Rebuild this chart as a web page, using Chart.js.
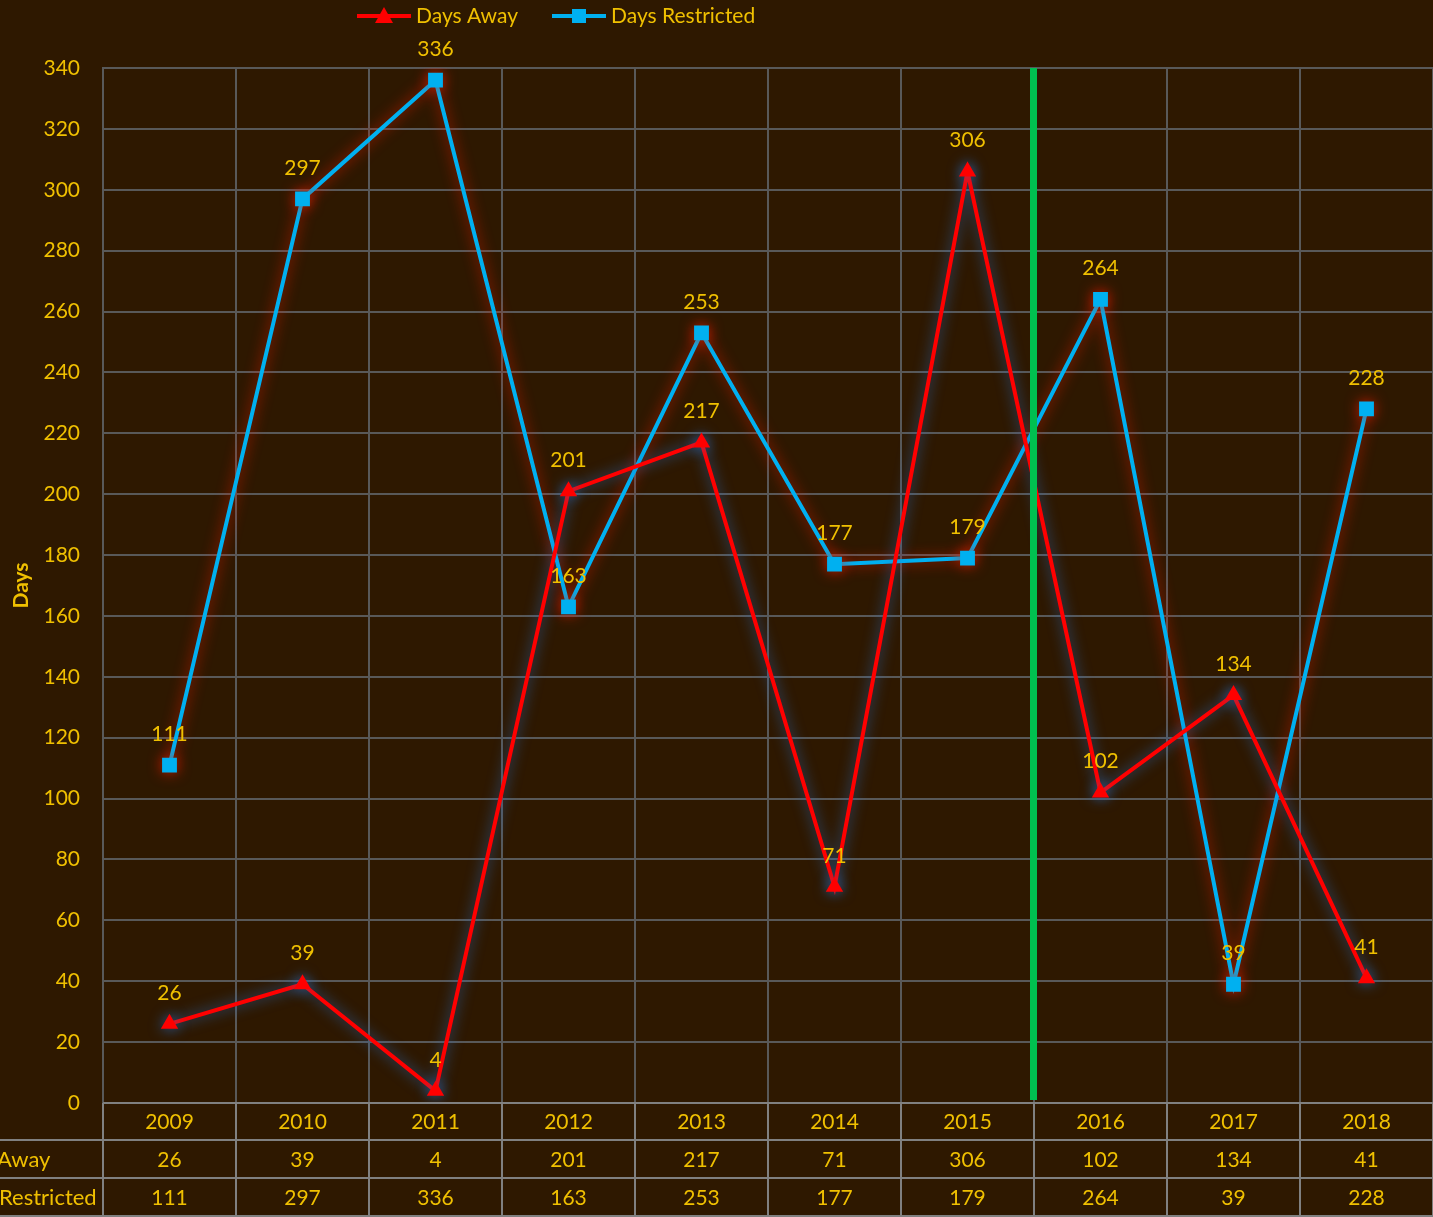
<!DOCTYPE html>
<html lang="en">
<head>
<meta charset="utf-8" />
<title>Days Away / Days Restricted</title>
<script src="https://cdn.jsdelivr.net/npm/chart.js@4.4.1/dist/chart.umd.min.js"></script>
<style>
  html, body { margin: 0; padding: 0; background: #2e1800; overflow: hidden; }
  canvas { display: block; }
</style>
</head>
<body>
<canvas id="days" width="1433" height="1217"></canvas>
<script>
// chart data
var years = ['2009', '2010', '2011', '2012', '2013', '2014', '2015', '2016', '2017', '2018'];
var daysAway = [26, 39, 4, 201, 217, 71, 306, 102, 134, 41];
var daysRestricted = [111, 297, 336, 163, 253, 177, 179, 264, 39, 228];
var tableRows = ['Away', 'Restricted'];

var gold = '#f0c000';
var red = '#ff0000';
var blue = '#00b0f0';
var FONT = 'Lato, "Open Sans", sans-serif';

// glow behind each series
var glowPlugin = {
  id: 'glow',
  beforeDatasetDraw: function (chart, args) {
    var ctx = chart.ctx;
    ctx.save();
    ctx.shadowColor = args.index === 0 ? 'rgba(40,110,200,0.85)' : 'rgba(230,30,0,0.85)';
    ctx.shadowBlur = 14;
  },
  afterDatasetDraw: function (chart) {
    chart.ctx.restore();
  }
};

// value labels, green marker line, legend and data table
var extrasPlugin = {
  id: 'extras',
  afterDatasetsDraw: function (chart) {
    var ctx = chart.ctx;
    var x = chart.scales.x;
    ctx.save();
    ctx.font = '21px ' + FONT;
    ctx.fillStyle = gold;
    ctx.textAlign = 'center';
    ctx.textBaseline = 'middle';
    chart.data.datasets.forEach(function (ds, di) {
      var meta = chart.getDatasetMeta(di);
      meta.data.forEach(function (pt, i) {
        ctx.fillText(String(ds.data[i]), pt.x, pt.y - 31);
      });
    });
    // green divider between 2015 and 2016
    var gx = (x.getPixelForValue(6) + x.getPixelForValue(7)) / 2;
    ctx.fillStyle = '#00c050';
    ctx.fillRect(gx - 4, chart.chartArea.top, 7, chart.chartArea.bottom - chart.chartArea.top - 3);
    ctx.restore();
  },
  afterDraw: function (chart) {
    var ctx = chart.ctx;
    var x = chart.scales.x;
    var area = chart.chartArea;
    ctx.save();

    // legend
    ctx.font = '21px ' + FONT;
    ctx.textBaseline = 'middle';
    ctx.textAlign = 'left';
    var ly = 16;
    ctx.lineWidth = 4;
    ctx.strokeStyle = red;
    ctx.beginPath(); ctx.moveTo(357, ly); ctx.lineTo(411, ly); ctx.stroke();
    ctx.fillStyle = red;
    ctx.beginPath(); ctx.moveTo(384, ly - 9); ctx.lineTo(393, ly + 7); ctx.lineTo(375, ly + 7); ctx.closePath(); ctx.fill();
    ctx.fillStyle = gold;
    ctx.fillText('Days Away', 416, ly);
    ctx.strokeStyle = blue;
    ctx.beginPath(); ctx.moveTo(552, ly); ctx.lineTo(606, ly); ctx.stroke();
    ctx.fillStyle = blue;
    ctx.fillRect(572, ly - 7, 14, 14);
    ctx.fillStyle = gold;
    ctx.fillText('Days Restricted', 611, ly);

    // data table
    var top = area.bottom;
    var rowH = 38;
    var step = x.getPixelForValue(1) - x.getPixelForValue(0);
    ctx.strokeStyle = '#808080';
    ctx.lineWidth = 2;
    ctx.beginPath();
    ctx.moveTo(area.left, top); ctx.lineTo(area.right, top);
    for (var r = 1; r <= 3; r++) {
      ctx.moveTo(0, top + r * rowH - 1); ctx.lineTo(area.right, top + r * rowH - 1);
    }
    for (var c = 0; c <= years.length; c++) {
      var vx = x.getPixelForValue(0) - step / 2 + c * step;
      ctx.moveTo(vx, top); ctx.lineTo(vx, top + 3 * rowH);
    }
    ctx.stroke();

    ctx.font = '21px ' + FONT;
    ctx.fillStyle = gold;
    ctx.textAlign = 'center';
    var rows = [years, daysAway, daysRestricted];
    rows.forEach(function (vals, ri) {
      var cy = top + ri * rowH + rowH / 2;
      vals.forEach(function (v, i) {
        ctx.fillText(String(v), x.getPixelForValue(i), cy);
      });
    });
    ctx.textAlign = 'left';
    ctx.font = '22px ' + FONT;
    ctx.fillText(tableRows[0], -3, top + rowH * 1.5);
    ctx.fillText(tableRows[1], -1, top + rowH * 2.5);
    ctx.restore();
  }
};

new Chart(document.getElementById('days'), {
  type: 'line',
  data: {
    labels: years,
    datasets: [{
      label: 'Days Away',
      data: daysAway,
      borderColor: red,
      backgroundColor: red,
      borderWidth: 4,
      pointStyle: 'triangle',
      pointRadius: 10,
      pointBorderWidth: 0,
      pointHoverRadius: 10,
      tension: 0,
      fill: false
    }, {
      label: 'Days Restricted',
      data: daysRestricted,
      borderColor: blue,
      backgroundColor: blue,
      borderWidth: 4,
      pointStyle: 'rect',
      pointRadius: 10.5,
      pointBorderWidth: 0,
      pointHoverRadius: 10.5,
      tension: 0,
      fill: false
    }]
  },
  options: {
    responsive: false,
    animation: false,
    events: [],
    layout: { autoPadding: false, padding: { top: 68, bottom: 114, left: 0, right: 0 } },
    plugins: {
      legend: { display: false },
      tooltip: { enabled: false }
    },
    scales: {
      x: {
        type: 'category',
        offset: true,
        grid: { offset: true, color: '#595959', lineWidth: 2, drawTicks: false },
        border: { color: '#808080', width: 2 },
        ticks: { display: false },
        afterFit: function (scale) { scale.height = 0; }
      },
      y: {
        min: 0,
        max: 340,
        grid: { color: '#595959', lineWidth: 2, drawTicks: false },
        border: { color: '#595959', width: 2 },
        ticks: {
          stepSize: 20,
          padding: 23,
          color: gold,
          font: { family: FONT, size: 21 }
        },
        title: {
          display: true,
          text: 'Days',
          color: gold,
          padding: 9,
          font: { family: FONT, size: 21, weight: 'bold' }
        },
        afterFit: function (scale) { scale.width = 103; }
      }
    }
  },
  plugins: [glowPlugin, extrasPlugin]
});
</script>
</body>
</html>
